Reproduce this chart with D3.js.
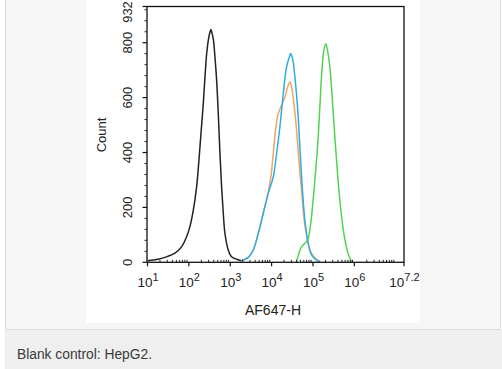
<!DOCTYPE html>
<html><head><meta charset="utf-8">
<script src="https://cdn.jsdelivr.net/npm/d3@7"></script>
<style>html,body{margin:0;padding:0;background:#fff;}svg{display:block;font-family:"Liberation Sans",Arial,sans-serif;}</style>
</head><body>
<svg id="chart" width="502" height="369"></svg>
<script>
// ---- data (intensity, count) ----
const blackX = [10,18,26.5,46,67,88,106,128,154,175,196,223,245,269,294,324,342,355,389,427,469,514,564,618,679,745,895,1079,1426,1879];
const blackY = [6,11,18,33,57,93,130,190,275,372,469,578,675,760,808,839,848,840,814,748,663,542,396,275,178,105,45,20,11,6];
const orangeX = [1879,2729,3606,4753,6281,8299,9616,10965,12474,14454,17418,20941,25177,27669,30339,35237,40087,45709,52966,61376,73790,92257,121899,147911];
const orangeY = [6,18,45,105,180,255,311,396,481,542,572,602,645,657,639,566,481,372,263,154,81,33,11,4];
const blueX = [1879,2729,3606,4753,6281,8299,10965,13183,15849,19098,22961,27669,28840,30339,33266,36559,42364,48195,54954,63680,76736,92257,121899,147911];
const blueY = [6,18,45,105,178,251,311,396,493,614,711,754,761,754,729,675,566,420,275,154,69,27,8,2];
const greenX = [40087,45709,52966,61376,73790,84140,95719,110917,128825,146555,160694,183231,204644,224388,255859,291072,337287,391742,462381,557186,683912,822243,933254];
const greenY = [2,33,57,67,81,118,190,299,420,566,675,772,796,772,711,602,457,324,202,105,39,8,0];
const yTickValues = [0,200,400,600,800,932];
const xTickExponents = ["1","2","3","4","5","6","7.2"];
const xLabel = "AF647-H";
const yLabel = "Count";
const caption = "Blank control: HepG2.";

const svg = d3.select("#chart");

// page frame
svg.append("rect").attr("x",0).attr("y",0).attr("width",502).attr("height",369).attr("fill","#fff");
svg.append("rect").attr("x",5.5).attr("y",-1).attr("width",495).attr("height",330.5).attr("fill","#f5f6f5").attr("stroke","#dcdedc");
svg.append("rect").attr("x",5).attr("y",330).attr("width",497).attr("height",39).attr("fill","#eeefee");
svg.append("rect").attr("x",86).attr("y",0).attr("width",334).attr("height",323).attr("fill","#fff");

svg.append("text").attr("x",17).attr("y",359).attr("font-size",13.8).attr("fill","#3a3a3a").text(caption);

// scales
const x = d3.scaleLog().domain([10, Math.pow(10,7.2)]).range([147.5, 404]);
const y = d3.scaleLinear().domain([0, 932]).range([262.3, 6.5]);

const g = svg.append("g");

// curves
const line = d3.line().x(d=>x(Math.max(10,d[0]))).y(d=>y(d[1])).curve(d3.curveCatmullRom.alpha(0.5));
const series = [
  {xs:blackX, ys:blackY, c:"#222222"},
  {xs:greenX, ys:greenY, c:"#52d452"},
  {xs:orangeX, ys:orangeY, c:"#f2a464"},
  {xs:blueX, ys:blueY, c:"#2eaee0"}
];
series.forEach(s=>{
  g.append("path").datum(s.xs.map((v,i)=>[v,s.ys[i]]))
   .attr("d",line).attr("fill","none").attr("stroke",s.c).attr("stroke-width",1.5).attr("stroke-linejoin","round");
});

// frame
g.append("rect").attr("x",x.range()[0]-0.5).attr("y",y.range()[1]).attr("width",x.range()[1]-x.range()[0]+0.5)
 .attr("height",y.range()[0]-y.range()[1]).attr("fill","none").attr("stroke","#111").attr("stroke-width",1.3);

// y axis ticks
const yMinor = d3.range(40, 932, 40).filter(v=>v%200!==0);
yMinor.forEach(v=>{
  g.append("line").attr("x1",144.5).attr("x2",147).attr("y1",y(v)).attr("y2",y(v)).attr("stroke","#222").attr("stroke-width",1);
});
yTickValues.forEach(v=>{
  g.append("line").attr("x1",142.5).attr("x2",147).attr("y1",y(v)).attr("y2",y(v)).attr("stroke","#111").attr("stroke-width",1.2);
  // keep the top label fully inside the picture
  const cy = Math.max(y(v), 12);
  g.append("text").attr("transform",`translate(132,${cy}) rotate(-90)`).attr("text-anchor","middle")
   .attr("font-size",13).attr("fill","#222").text(v);
});
g.append("text").attr("transform",`translate(106,135) rotate(-90)`).attr("text-anchor","middle")
 .attr("font-size",13).attr("fill","#222").text(yLabel);

// x axis ticks
const yb = y(0);
for (let e=1;e<=7;e++){
  for (let m=2;m<=9;m++){
    const v = m*Math.pow(10,e);
    if (v > x.domain()[1]) break;
    g.append("line").attr("x1",x(v)).attr("x2",x(v)).attr("y1",yb).attr("y2",yb-2.5).attr("stroke","#222").attr("stroke-width",1);
  }
}
xTickExponents.forEach(e=>{
  const v = Math.pow(10, +e);
  const px = x(v);
  g.append("line").attr("x1",px).attr("x2",px).attr("y1",yb).attr("y2",yb+4).attr("stroke","#111").attr("stroke-width",1.2);
  const t = g.append("text").attr("x",px+0.5).attr("y",286.5).attr("text-anchor","middle").attr("font-size",13.5).attr("fill","#222");
  t.append("tspan").text("10");
  t.append("tspan").attr("dy",-6).attr("font-size",11).text(e);
});
g.append("text").attr("x",273).attr("y",315).attr("text-anchor","middle").attr("font-size",14).attr("fill","#222").text(xLabel);
</script>
</body></html>
